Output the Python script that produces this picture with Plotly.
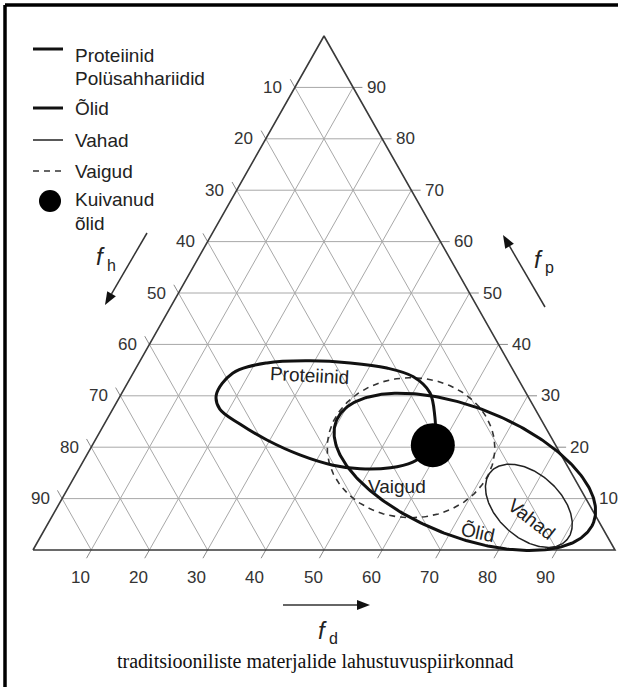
import numpy as np
import plotly.graph_objects as go

# ---------------- data ----------------
tick_values = [10, 20, 30, 40, 50, 60, 70, 80, 90]
tick_labels = [str(v) for v in tick_values]

# elliptical solubility regions, centre given as (f_d, f_p) in %
region_names = ["Vaigud", "Õlid", "Vahad"]
region_center_fd = [55.0, 66.6, 80.9]
region_center_fp = [19.9, 15.2, 8.6]
region_semi_major = [14.4, 23.7, 8.7]
region_semi_minor = [11.8, 10.9, 5.4]
region_tilt_deg = [0, -21, -41]

# Proteiinid / Polüsahhariidid boundary (f_d, f_p in %)
proteiinid_fd = [58.5, 56.1, 52.9, 48.5, 43.1, 36.3, 29.2, 22.0, 17.1, 16.4,
                 18.4, 23.3, 29.5, 36.6, 43.3, 48.3, 53.4, 56.7, 58.3]
proteiinid_fp = [21.4, 25.9, 30.6, 33.7, 35.4, 36.4, 36.8, 36.4, 34.4, 30.2,
                 27.4, 24.5, 21.4, 18.5, 16.5, 15.8, 16.0, 17.1, 19.1]

# Kuivanud õlid (dried oils)
dried_fd = [58.5]
dried_fp = [20.4]

# ---------------- helpers ----------------
W, H = 618, 687
S = np.sqrt(3) / 2


def to_xy(fd, fp):
    fd = np.asarray(fd, dtype=float)
    fp = np.asarray(fp, dtype=float)
    return fd + fp / 2.0, fp * S


def pp(px, py):
    return px / W, 1 - py / H


fig = go.Figure()

# grid lines and tick extensions
gx, gy, tx, ty = [], [], [], []
e = 1.6
for v in tick_values:
    # constant f_p (horizontal)
    x, y = to_xy([0, 100 - v], [v, v]); gx += list(x) + [None]; gy += list(y) + [None]
    x, y = to_xy([100 - v, 100 - v + e], [v, v]); tx += list(x) + [None]; ty += list(y) + [None]
    # constant f_h
    x, y = to_xy([0, 100 - v], [100 - v, 0]); gx += list(x) + [None]; gy += list(y) + [None]
    x, y = to_xy([0, -e], [100 - v, 100 - v + e]); tx += list(x) + [None]; ty += list(y) + [None]
    # constant f_d
    x, y = to_xy([v, v], [0, 100 - v]); gx += list(x) + [None]; gy += list(y) + [None]
    x, y = to_xy([v, v], [0, -e]); tx += list(x) + [None]; ty += list(y) + [None]

fig.add_trace(go.Scatter(x=gx, y=gy, mode="lines", line=dict(color="#a8a8a8", width=1),
                         hoverinfo="skip", showlegend=False))
fig.add_trace(go.Scatter(x=tx, y=ty, mode="lines", line=dict(color="#8a8a8a", width=1),
                         hoverinfo="skip", showlegend=False))

# triangle outline
bx, by = to_xy([0, 100, 0, 0], [0, 0, 100, 0])
fig.add_trace(go.Scatter(x=bx, y=by, mode="lines", line=dict(color="#3a3a3a", width=1.6),
                         hoverinfo="skip", showlegend=False))

# elliptical regions
styles = {
    "Vaigud": dict(color="#333333", width=1.6, dash="6px,5px"),
    "Õlid": dict(color="#111111", width=3),
    "Vahad": dict(color="#222222", width=1.5),
}
t = np.linspace(0, 2 * np.pi, 300)
for name, cfd, cfp, a, b, ang in zip(region_names, region_center_fd, region_center_fp,
                                      region_semi_major, region_semi_minor, region_tilt_deg):
    cx, cy = to_xy(cfd, cfp)
    phi = np.radians(ang)
    u, w = a * np.cos(t), b * np.sin(t)
    ex = cx + u * np.cos(phi) - w * np.sin(phi)
    ey = cy + u * np.sin(phi) + w * np.cos(phi)
    fig.add_trace(go.Scatter(x=ex, y=ey, mode="lines", line=styles[name],
                             hoverinfo="skip", showlegend=False, name=name))

# Proteiinid boundary
px_, py_ = to_xy(proteiinid_fd, proteiinid_fp)
fig.add_trace(go.Scatter(x=px_, y=py_, mode="lines",
                         line=dict(color="#111111", width=3, shape="spline", smoothing=1.0),
                         hoverinfo="skip", showlegend=False, name="Proteiinid"))

# dried oils dot
dx_, dy_ = to_xy(dried_fd, dried_fp)
fig.add_trace(go.Scatter(x=dx_, y=dy_, mode="markers",
                         marker=dict(color="black", size=44, line=dict(width=0)),
                         hoverinfo="skip", showlegend=False))

ann = []
tick_font = dict(family="Liberation Sans, Arial", size=17, color="#333333")
for v, lab in zip(tick_values, tick_labels):
    x, y = to_xy(0, 100 - v)
    ann.append(dict(x=float(x), y=float(y), xref="x", yref="y", text=lab, showarrow=False,
                    xshift=-22, font=tick_font))
    x, y = to_xy(100 - v, v)
    ann.append(dict(x=float(x), y=float(y), xref="x", yref="y", text=lab, showarrow=False,
                    xshift=23, font=tick_font))
    x, y = to_xy(v, 0)
    ann.append(dict(x=float(x), y=float(y), xref="x", yref="y", text=lab, showarrow=False,
                    xshift=-11, yshift=-27, font=tick_font))

lab_font = dict(family="Liberation Sans, Arial", size=19, color="#222222")


def paper_text(px, py, text, font, angle=0, xanchor="center"):
    x, y = pp(px, py)
    ann.append(dict(x=x, y=y, xref="paper", yref="paper", text=text, showarrow=False,
                    textangle=angle, xanchor=xanchor, yanchor="middle", font=font))


# region labels
paper_text(309, 375, "Proteiinid", lab_font, angle=3)
paper_text(397, 486, "Vaigud", lab_font)
paper_text(478, 532, "Õlid", lab_font, angle=12)
paper_text(532, 519, "Vahad", lab_font, angle=38)

# legend texts
paper_text(73, 55, "Proteiinid", lab_font, xanchor="left")
paper_text(73, 78, "Polüsahhariidid", lab_font, xanchor="left")
paper_text(73, 109, "Õlid", lab_font, xanchor="left")
paper_text(73, 140, "Vahad", lab_font, xanchor="left")
paper_text(73, 171, "Vaigud", lab_font, xanchor="left")
paper_text(73, 200, "Kuivanud", lab_font, xanchor="left")
paper_text(73, 223, "õlid", lab_font, xanchor="left")

# axis names: italic f with a small subscript letter
f_font = dict(family="Liberation Sans, Arial", size=24, color="#222222", style="italic")
sub_font = dict(family="Liberation Sans, Arial", size=16, color="#222222")
for fx, fy, sub in [(100, 257, "h"), (538, 259, "p"), (322, 630, "d")]:
    paper_text(fx, fy, "f", f_font)
    paper_text(fx + 11, fy + 8, sub, sub_font)

# caption
paper_text(315, 661, "traditsiooniliste materjalide lahustuvuspiirkonnad",
           dict(family="Liberation Serif, Times New Roman", size=20, color="#111111"))

shapes = []


def pline(x0, y0, x1, y1, **line):
    a0, b0 = pp(x0, y0)
    a1, b1 = pp(x1, y1)
    shapes.append(dict(type="line", xref="paper", yref="paper", x0=a0, y0=b0, x1=a1, y1=b1,
                       line=line))


def arrow(tx_, ty_, hx, hy, length=13, half=5):
    """thin shaft from tail to head with a filled triangular head"""
    d = np.array([hx - tx_, hy - ty_], dtype=float)
    d /= np.hypot(*d)
    n = np.array([-d[1], d[0]])
    base = np.array([hx, hy]) - d * length
    pline(tx_, ty_, base[0], base[1], color="#333333", width=1.5)
    p1 = base + n * half
    p2 = base - n * half
    pts = [pp(hx, hy), pp(*p1), pp(*p2)]
    path = "M {:.5f},{:.5f} L {:.5f},{:.5f} L {:.5f},{:.5f} Z".format(
        pts[0][0], pts[0][1], pts[1][0], pts[1][1], pts[2][0], pts[2][1])
    shapes.append(dict(type="path", xref="paper", yref="paper", path=path,
                       fillcolor="#111111", line=dict(width=0)))


arrow(147, 233, 105, 305)
arrow(545, 307, 503, 235)
arrow(283, 605, 370, 605)

# legend samples
pline(33, 49, 63, 49, color="#111111", width=3)
pline(33, 108, 63, 108, color="#111111", width=3)
pline(33, 140, 63, 140, color="#222222", width=1.5)
pline(33, 171, 63, 171, color="#333333", width=1.5, dash="6px,5px")
c0 = pp(39, 190); c1 = pp(61, 212)
shapes.append(dict(type="circle", xref="paper", yref="paper", x0=c0[0], y0=c1[1], x1=c1[0],
                   y1=c0[1], fillcolor="black", line=dict(width=0)))

# frame
pline(5, 5, 640, 5, color="black", width=3.5)
pline(5, 5, 5, 700, color="black", width=3.5)

sx = 5.82
sy = 5.935
x0 = -33 / sx
y1 = 550 / sy
fig.update_layout(
    width=W, height=H, margin=dict(l=0, r=0, t=0, b=0),
    paper_bgcolor="white", plot_bgcolor="white",
    xaxis=dict(range=[x0, x0 + W / sx], visible=False, fixedrange=True),
    yaxis=dict(range=[y1 - H / sy, y1], visible=False, fixedrange=True),
    annotations=ann, shapes=shapes, showlegend=False,
)

fig.write_html("out.html", config={"displayModeBar": False},
               post_script="document.body.style.margin='0px';document.body.style.overflow='hidden';")
